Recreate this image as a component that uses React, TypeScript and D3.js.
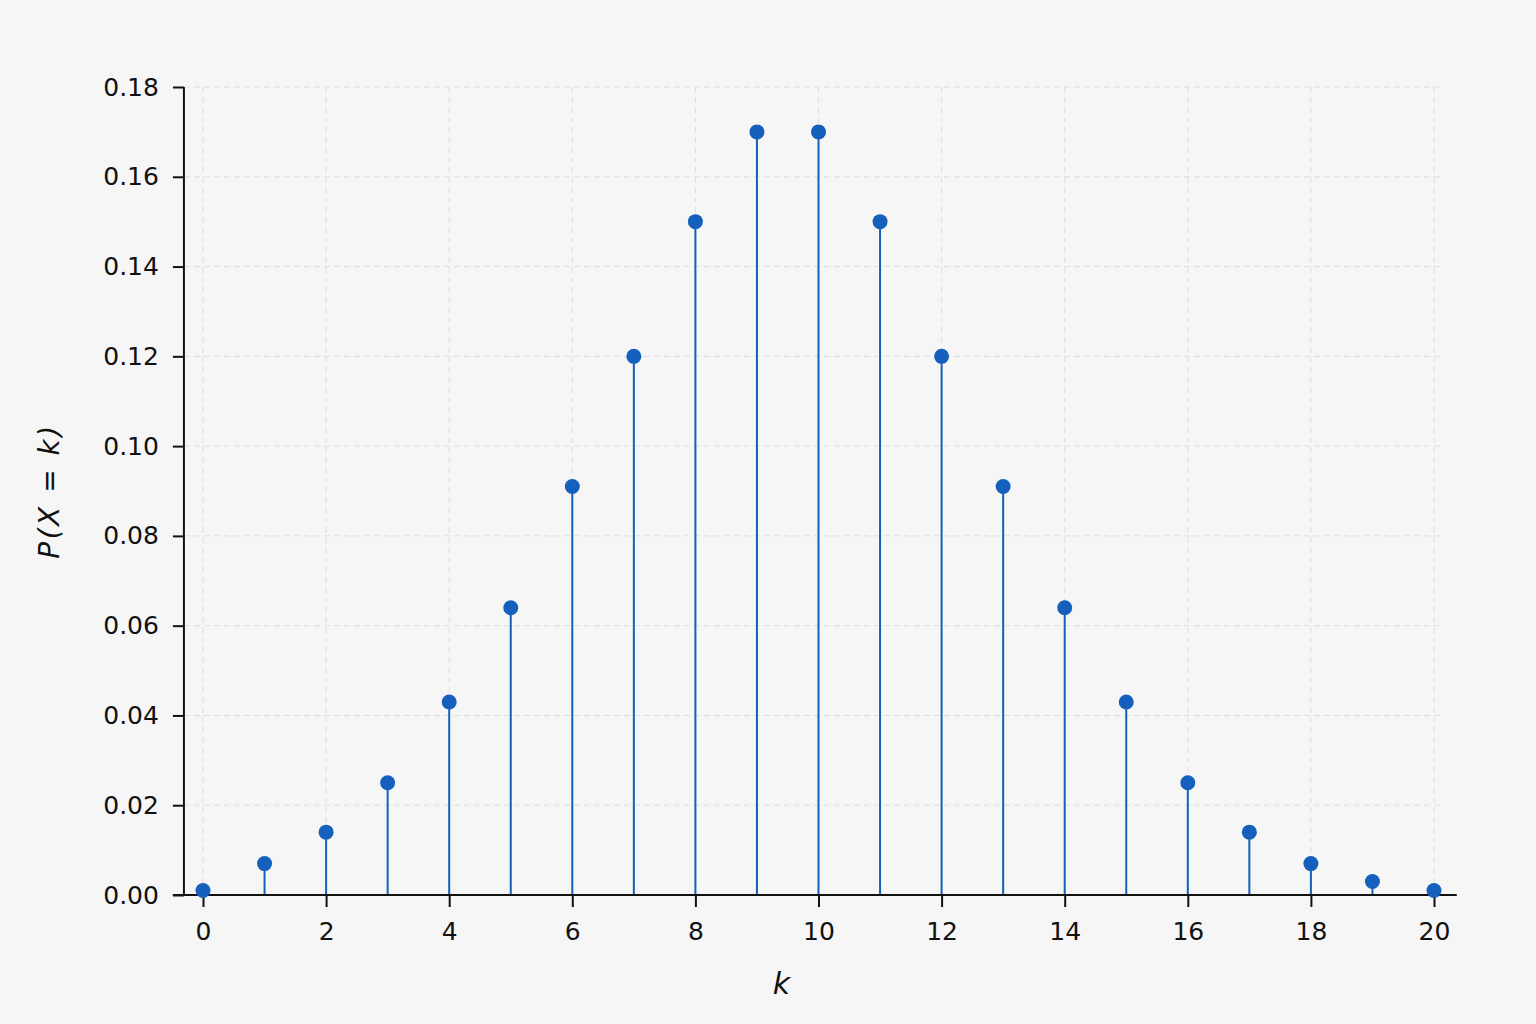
import React, { useEffect, useRef } from "react";
import * as d3 from "d3";

const kValues: number[] = [0, 1, 2, 3, 4, 5, 6, 7, 8, 9, 10, 11, 12, 13, 14, 15, 16, 17, 18, 19, 20];
const probabilities: number[] = [
  0.001, 0.007, 0.014, 0.025, 0.043, 0.064, 0.091, 0.12, 0.15, 0.17, 0.17,
  0.15, 0.12, 0.091, 0.064, 0.043, 0.025, 0.014, 0.007, 0.003, 0.001,
];
const xTicks: number[] = [0, 2, 4, 6, 8, 10, 12, 14, 16, 18, 20];
const yTicks: number[] = [0, 0.02, 0.04, 0.06, 0.08, 0.1, 0.12, 0.14, 0.16, 0.18];

const WIDTH = 1536;
const HEIGHT = 1024;
const BLUE = "#1560bd";
const FONT = "'DejaVu Sans', sans-serif";

const App: React.FC = () => {
  const svgRef = useRef<SVGSVGElement | null>(null);

  useEffect(() => {
    if (!svgRef.current) return;
    const svg = d3.select(svgRef.current);
    svg.selectAll("*").remove();

    const x = d3.scaleLinear().domain([0, 20]).range([203, 1434]);
    const y = d3.scaleLinear().domain([0, 0.18]).range([895, 87]);

    const gridRight = 1440;

    // background
    svg.append("rect").attr("width", WIDTH).attr("height", HEIGHT).attr("fill", "#f6f6f6");

    // grid
    const grid = svg.append("g").attr("stroke", "#dedede").attr("stroke-width", 1).attr("stroke-dasharray", "6,4");
    grid
      .selectAll("line.h")
      .data(yTicks.filter((t) => t > 0))
      .enter()
      .append("line")
      .attr("x1", x(-0.31))
      .attr("x2", gridRight)
      .attr("y1", (d) => y(d))
      .attr("y2", (d) => y(d));
    grid
      .selectAll("line.v")
      .data(xTicks)
      .enter()
      .append("line")
      .attr("x1", (d) => x(d))
      .attr("x2", (d) => x(d))
      .attr("y1", y(0.18))
      .attr("y2", y(0));

    // stems
    svg
      .append("g")
      .selectAll("line")
      .data(kValues)
      .enter()
      .append("line")
      .attr("x1", (d) => x(d))
      .attr("x2", (d) => x(d))
      .attr("y1", y(0))
      .attr("y2", (_, i) => y(probabilities[i]))
      .attr("stroke", BLUE)
      .attr("stroke-width", 2);

    // axes
    const xAxis = d3
      .axisBottom(x)
      .tickValues(xTicks)
      .tickSize(12)
      .tickPadding(15)
      .tickFormat((d) => d3.format("d")(d as number));
    const gx = svg.append("g").attr("transform", `translate(0,${y(0)})`).call(xAxis);
    gx.select(".domain").remove();
    gx.selectAll("line").attr("stroke", "#111").attr("stroke-width", 2);
    gx.selectAll("text").attr("fill", "#111").style("font-family", FONT).style("font-size", "25px");

    const yAxis = d3
      .axisLeft(y)
      .tickValues(yTicks)
      .tickSize(11)
      .tickPadding(14)
      .tickFormat((d) => d3.format(".2f")(d as number));
    const gy = svg.append("g").attr("transform", `translate(${x(-0.31)},0)`).call(yAxis);
    gy.select(".domain").remove();
    gy.selectAll("line").attr("stroke", "#111").attr("stroke-width", 2);
    gy.selectAll("text").attr("fill", "#111").style("font-family", FONT).style("font-size", "25px");

    svg
      .append("line")
      .attr("x1", x(-0.31))
      .attr("x2", x(-0.31))
      .attr("y1", y(0.18))
      .attr("y2", y(0))
      .attr("stroke", "#111")
      .attr("stroke-width", 2);
    svg
      .append("line")
      .attr("x1", x(-0.49))
      .attr("x2", x(20.37))
      .attr("y1", y(0))
      .attr("y2", y(0))
      .attr("stroke", "#111")
      .attr("stroke-width", 2);

    // markers
    svg
      .append("g")
      .selectAll("circle")
      .data(kValues)
      .enter()
      .append("circle")
      .attr("cx", (d) => x(d))
      .attr("cy", (_, i) => y(probabilities[i]))
      .attr("r", 7.5)
      .attr("fill", BLUE);

    // labels
    svg
      .append("text")
      .attr("x", x(10) - 37)
      .attr("y", 994)
      .attr("text-anchor", "middle")
      .attr("fill", "#111")
      .style("font-family", FONT)
      .style("font-size", "30px")
      .style("font-style", "italic")
      .text("k");

    svg
      .append("text")
      .attr("transform", `translate(59,${(y(0) + y(0.18)) / 2}) rotate(-90)`)
      .attr("text-anchor", "middle")
      .attr("fill", "#111")
      .style("font-family", FONT)
      .style("font-size", "28px")
      .style("font-style", "italic")
      .style("letter-spacing", "2.5px")
      .text("P(X = k)");
  }, []);

  return (
    <svg
      ref={svgRef}
      width={WIDTH}
      height={HEIGHT}
      style={{ position: "absolute", top: 0, left: 0, display: "block" }}
    />
  );
};

export default App;
